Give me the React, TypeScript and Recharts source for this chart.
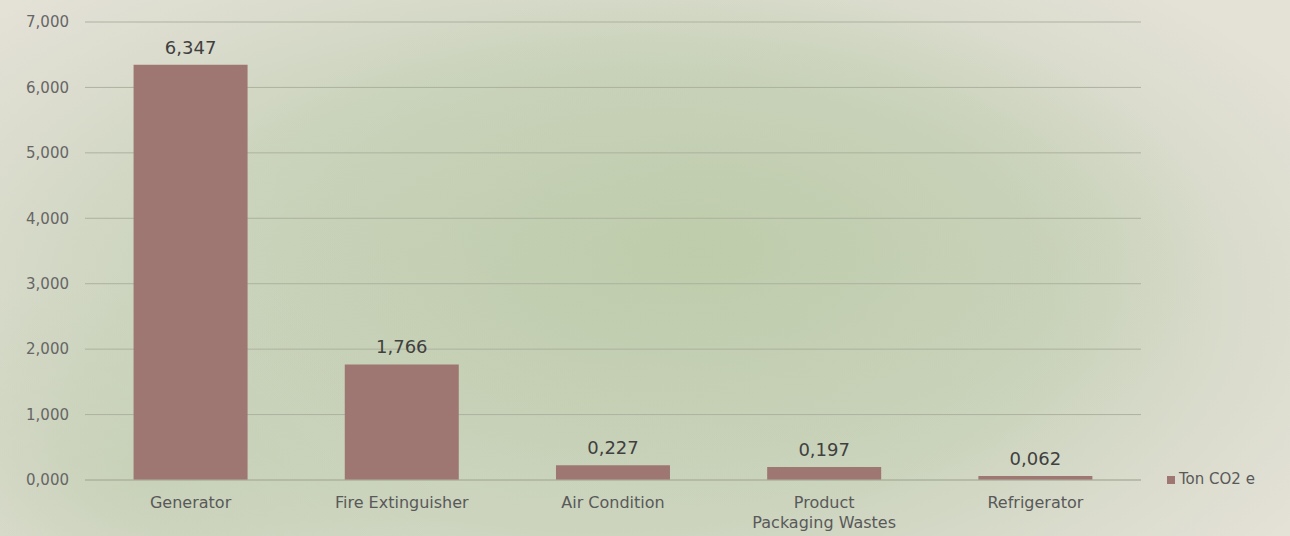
import React from 'react';
import { BarChart, Bar, XAxis, YAxis, CartesianGrid, Legend, LabelList } from 'recharts';

const categories = ['Generator', 'Fire Extinguisher', 'Air Condition', 'Product Packaging Wastes', 'Refrigerator'];
const tonCO2e = [6.347, 1.766, 0.227, 0.197, 0.062];
const yTicks = [0, 1, 2, 3, 4, 5, 6, 7];
const seriesName = 'Ton CO2 e';

const data = categories.map((c, i) => ({ name: c, value: tonCO2e[i] }));

const FONT = '"DejaVu Sans", sans-serif';
const fmt = (v: number) => v.toFixed(3).replace('.', ',');

const XTick = (props: any) => {
  const { x, y, payload } = props;
  const label: string = payload.value;
  const words = label.split(' ');
  const lines = label.length > 20 ? [words[0], words.slice(1).join(' ')] : [label];
  return (
    <g transform={`translate(${x},${y})`}>
      {lines.map((l, i) => (
        <text key={i} x={0} y={0} dy={20 + i * 20} textAnchor="middle" fill="#595959" fontSize={16} fontFamily={FONT}>
          {l}
        </text>
      ))}
    </g>
  );
};

export default function App() {
  return (
    <div
      style={{
        position: 'absolute',
        left: 0,
        top: 0,
        width: 1290,
        height: 536,
        overflow: 'hidden',
        background:
          'radial-gradient(ellipse 520px 260px at 700px 250px, rgba(190,204,170,0.9) 0%, rgba(194,206,176,0.6) 50%, rgba(200,210,184,0) 100%), radial-gradient(ellipse 300px 200px at 150px 470px, rgba(196,207,180,0.8) 0%, rgba(200,210,186,0) 100%), radial-gradient(ellipse 820px 420px at 600px 300px, rgba(196,207,181,1) 0%, rgba(200,210,186,0.85) 55%, rgba(212,216,198,0.5) 82%, rgba(228,225,215,0) 100%), #e4e1d7',
      }}
    >
      <BarChart
        width={1290}
        height={536}
        data={data}
        margin={{ top: 22, right: 19, bottom: 0, left: 0 }}
        barCategoryGap="23%"
      >
        <CartesianGrid vertical={false} stroke="#adb29f" strokeWidth={1} />
        <XAxis
          dataKey="name"
          axisLine={{ stroke: '#adb29f' }}
          tickLine={false}
          height={56}
          interval={0}
          tick={<XTick />}
        />
        <YAxis
          domain={[0, 7]}
          ticks={yTicks}
          width={85}
          axisLine={false}
          tickLine={false}
          tickMargin={10}
          tickFormatter={fmt}
          tick={{ fill: '#666666', fontSize: 15, fontFamily: FONT }}
        />
        <Legend
          layout="vertical"
          align="right"
          verticalAlign="bottom"
          iconType="square"
          iconSize={8}
          wrapperStyle={{ position: 'absolute', left: 1167, top: 470, width: 130, fontFamily: FONT, fontSize: 15 }}
          formatter={(v: string) => <span style={{ color: '#595959' }}>{v}</span>}
        />
        <Bar dataKey="value" name={seriesName} fill="#9e7772" isAnimationActive={false}>
          <LabelList
            dataKey="value"
            position="top"
            offset={11}
            formatter={(v: any) => fmt(Number(v))}
            fill="#404040"
            fontSize={18}
            fontFamily={FONT}
          />
        </Bar>
      </BarChart>
    </div>
  );
}
